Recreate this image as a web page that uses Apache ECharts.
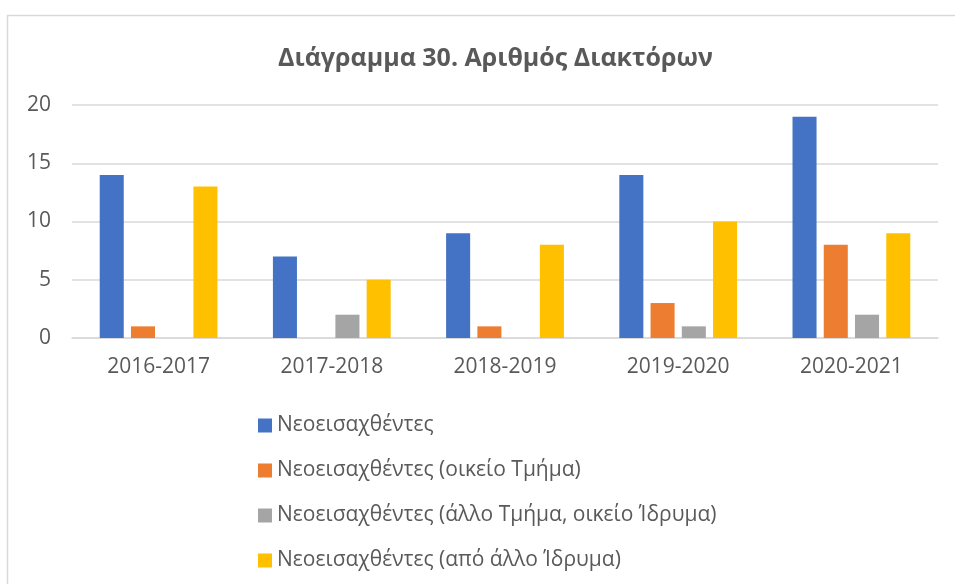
<!DOCTYPE html>
<html>
<head>
<meta charset="utf-8">
<script src="https://cdn.jsdelivr.net/npm/echarts@6/dist/echarts.min.js"></script>
<style>
	html, body { margin: 0; padding: 0; background: #fff; }
	#chart { width: 955px; height: 584px; }
</style>
</head>
<body>
<div id="chart"></div>
<script>
	const years = ['2016-2017', '2017-2018', '2018-2019', '2019-2020', '2020-2021']
	const seriesNames = [
		'Νεοεισαχθέντες',
		'Νεοεισαχθέντες (οικείο Τμήμα)',
		'Νεοεισαχθέντες (άλλο Τμήμα, οικείο Ίδρυμα)',
		'Νεοεισαχθέντες (από άλλο Ίδρυμα)'
	]
	const total = [14, 7, 9, 14, 19]
	const sameDept = [1, 0, 1, 3, 8]
	const otherDept = [0, 2, 0, 1, 2]
	const otherInst = [13, 5, 8, 10, 9]
	const colors = ['#4472c4', '#ed7d31', '#a5a5a5', '#ffc000']

	const font = 'Open Sans, Noto Sans, sans-serif'
	const textColor = '#595959'

	const chart = echarts.init(document.getElementById('chart'))
	const values = [total, sameDept, otherDept, otherInst]

	chart.setOption({
		animation: false,
		textStyle: { fontFamily: font },
		title: {
			text: 'Διάγραμμα 30. Αριθμός Διακτόρων',
			left: 273,
			top: 41,
			textStyle: { fontSize: 25, fontWeight: 'bold', color: textColor, fontFamily: font }
		},
		// light frame around the chart, like the original
		graphic: [{
			type: 'rect',
			shape: { x: 7.5, y: 15.5, width: 990, height: 620 },
			style: { fill: null, stroke: '#d9d9d9', lineWidth: 1.5 },
			silent: true
		}],
		legend: {
			orient: 'vertical',
			left: 253,
			top: 408,
			itemWidth: 14,
			itemHeight: 14,
			itemGap: 20,
			icon: 'rect',
			data: seriesNames,
			textStyle: { fontSize: 21, color: textColor, lineHeight: 25, fontFamily: font }
		},
		grid: { left: 72, right: 17, top: 105, bottom: 246 },
		xAxis: {
			type: 'category',
			data: years,
			axisLine: { lineStyle: { color: '#d9d9d9', width: 1.5 } },
			axisTick: { show: false },
			axisLabel: { fontSize: 21, color: textColor, margin: 19 }
		},
		yAxis: {
			type: 'value',
			min: 0,
			max: 20,
			interval: 5,
			axisLine: { show: false },
			axisTick: { show: false },
			splitLine: { lineStyle: { color: '#d9d9d9', width: 1.5 } },
			axisLabel: { fontSize: 21, color: textColor, margin: 21 }
		},
		series: seriesNames.map(function(name, i) {
			return {
				name: name,
				type: 'bar',
				data: values[i],
				color: colors[i],
				barGap: '30%',
				barCategoryGap: '32%'
			}
		})
	})
</script>
</body>
</html>
